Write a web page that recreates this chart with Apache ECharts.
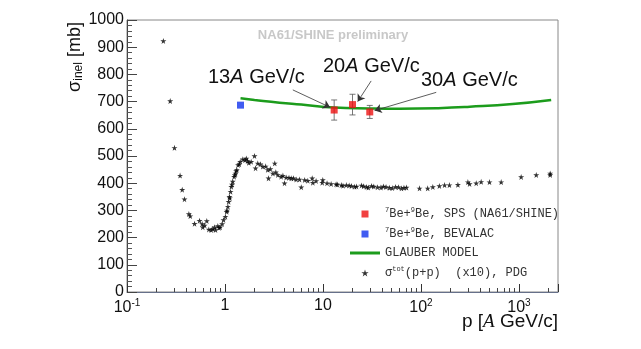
<!DOCTYPE html>
<html>
<head>
<meta charset="utf-8">
<script src="https://cdn.jsdelivr.net/npm/echarts@6/dist/echarts.min.js"></script>
<style>
html, body { margin: 0; padding: 0; background: #fff; }
#main { width: 641px; height: 349px; }
</style>
</head>
<body>
<div id="main"></div>
<script>
// sigma_tot(p+p) x10, PDG : [p (GeV/c), sigma (mb)]
const ppData = [
	[0.235, 923], [0.276, 702], [0.305, 530], [0.348, 428], [0.366, 376], [0.386, 341],
	[0.428, 287], [0.442, 279], [0.489, 251], [0.55, 262], [0.585, 250], [0.593, 238],
	[0.62, 245], [0.652, 261], [0.684, 230], [0.723, 228], [0.75, 232], [0.782, 238],
	[0.8, 228], [0.845, 243], [0.87, 236], [0.893, 238], [0.936, 250], [0.966, 265],
	[1.01, 277], [1.04, 295], [1.05, 300], [1.07, 314], [1.09, 332], [1.11, 350],
	[1.12, 345], [1.14, 369], [1.16, 387], [1.18, 395], [1.2, 406], [1.24, 424],
	[1.26, 430], [1.28, 436], [1.3, 445], [1.32, 449], [1.36, 467], [1.4, 470],
	[1.43, 479], [1.52, 488], [1.6, 485], [1.65, 491], [1.7, 482], [1.75, 475],
	[1.85, 479], [2.0, 500], [2.05, 455], [2.16, 473], [2.3, 470], [2.43, 461],
	[2.6, 462], [2.73, 449], [2.78, 418], [2.9, 452], [3.08, 436], [3.22, 473],
	[3.3, 440], [3.46, 430], [3.74, 424], [3.9, 428], [4.05, 400], [4.21, 421],
	[4.5, 420], [4.74, 418], [5.0, 418], [5.33, 414], [5.76, 414], [6.0, 385],
	[6.5, 412], [7.0, 409], [7.76, 418], [7.87, 402], [8.5, 408], [9.82, 402],
	[9.95, 412], [11, 400], [12.1, 397], [13.6, 396], [14, 395], [15.4, 393],
	[16, 391], [17.3, 393], [18.5, 392], [19.5, 390], [21, 387], [22, 388],
	[24.7, 392], [26, 389], [27.8, 386], [29, 384], [31.3, 390], [33, 388],
	[36, 385], [39, 384], [41.4, 388], [44, 386], [47.7, 383], [51, 382],
	[55, 386], [59, 385], [63.2, 381], [67, 383], [71.1, 384], [96.6, 381],
	[117, 381], [132, 386], [154, 390], [174, 393], [195, 393], [238, 394],
	[301, 404], [313, 397], [366, 400], [411, 405], [500, 404], [658, 404],
	[1052, 423], [1500, 430], [2080, 436], [2080, 430]
]

// 7Be+9Be, SPS (NA61/SHINE)
const naMomenta = [13, 20, 30]
const naSigma = [669, 689, 662]
const naError = [37, 38, 24]

// 7Be+9Be, BEVALAC
const bevalacData = [[1.44, 687]]

// Glauber model curve
const glauberData = [
	[1.44, 712], [2, 706], [3.6, 696], [6, 689], [13, 678], [30, 675],
	[60, 674], [150, 676], [315, 681], [860, 691], [2130, 706]
]

// annotation arrows [from, to] in data coordinates
const arrowLines = [
	[[4.92, 743], [11.8, 679]],
	[[31.0, 776], [22.6, 700]],
	[[143, 734], [33.6, 667]]
]

const xTickLabels = { '-1': '10{sup|-1}', '0': '1', '1': '10', '2': '10{sup|2}', '3': '10{sup|3}' }

const legendNames = {
	na61: '{sup|7}Be+{sup|9}Be, SPS (NA61/SHINE)',
	bevalac: '{sup|7}Be+{sup|9}Be, BEVALAC',
	glauber: 'GLAUBER MODEL',
	pp: 'σ{sup|tot}(p+p)  (x10), PDG'
}

const starPath = 'path://M0,-1L0.2245,-0.309L0.951,-0.309L0.363,0.118L0.588,0.809L0,0.382L-0.588,0.809L-0.363,0.118L-0.951,-0.309L-0.2245,-0.309Z'
const squarePath = 'path://M0,0L1,0L1,1L0,1Z'
const sans = 'Liberation Sans, Arial, sans-serif'

const xLabel = v => {
	const e = Math.log10(v)
	const r = Math.round(e)
	return Math.abs(e - r) < 1e-6 && xTickLabels[String(r)] ? xTickLabels[String(r)] : ''
}

const chart = echarts.init(document.getElementById('main'))

const option = {
	animation: false,
	grid: {
		left: 127,
		right: 83,
		top: 20,
		bottom: 57,
		show: true,
		borderColor: '#888',
		borderWidth: 1
	},
	legend: {
		orient: 'vertical',
		left: 345,
		top: 202,
		itemWidth: 30,
		itemHeight: 7,
		itemGap: 7,
		symbolKeepAspect: true,
		selectedMode: false,
		data: [
			{ name: 'na61', icon: squarePath },
			{ name: 'bevalac', icon: squarePath },
			{ name: 'glauber', icon: 'path://M0,0L30,0L30,3L0,3Z' },
			{ name: 'pp', icon: starPath }
		],
		formatter: name => legendNames[name],
		textStyle: {
			fontFamily: 'Liberation Mono, monospace',
			fontSize: 12,
			color: '#333',
			rich: {
				sup: { fontSize: 7, padding: [0, 0, 7, 0], fontFamily: 'Liberation Mono, monospace', color: '#333' }
			}
		}
	},
	xAxis: {
		type: 'log',
		logBase: 10,
		min: 0.1,
		max: 2500,
		axisLine: { lineStyle: { color: '#66708a', width: 1 } },
		axisTick: { inside: true, length: 8, lineStyle: { color: '#333' } },
		minorTick: { show: true, splitNumber: 9, length: 4, lineStyle: { color: '#444' } },
		splitLine: { show: false },
		axisLabel: {
			margin: 6,
			fontSize: 16,
			fontFamily: sans,
			color: '#111',
			formatter: xLabel,
			rich: {
				sup: { fontSize: 10, padding: [0, 0, 9, 0], fontFamily: sans, color: '#111' }
			}
		}
	},
	yAxis: {
		type: 'value',
		min: 0,
		max: 1000,
		interval: 100,
		axisLine: { show: true, lineStyle: { color: '#444' } },
		axisTick: { inside: true, length: 10, lineStyle: { color: '#444' } },
		minorTick: { show: true, splitNumber: 5, length: 5, lineStyle: { color: '#555' } },
		splitLine: { show: false },
		axisLabel: { margin: 3, fontSize: 16, fontFamily: sans, color: '#111', formatter: v => String(v) }
	},
	graphic: [
		{
			type: 'text',
			x: 333, y: 35,
			style: {
				text: 'NA61/SHINE preliminary',
				font: 'bold 13px ' + sans,
				fill: '#c8c8c8',
				align: 'center',
				verticalAlign: 'middle'
			}
		},
		{
			type: 'text',
			x: 208, y: 77,
			style: {
				text: '13{i|A} GeV/c',
				font: '20px ' + sans,
				fill: '#111',
				verticalAlign: 'middle',
				rich: { i: { font: 'italic 20px ' + sans, fill: '#111' } }
			}
		},
		{
			type: 'text',
			x: 323, y: 66,
			style: {
				text: '20{i|A} GeV/c',
				font: '20px ' + sans,
				fill: '#111',
				verticalAlign: 'middle',
				rich: { i: { font: 'italic 20px ' + sans, fill: '#111' } }
			}
		},
		{
			type: 'text',
			x: 421, y: 80,
			style: {
				text: '30{i|A} GeV/c',
				font: '20px ' + sans,
				fill: '#111',
				verticalAlign: 'middle',
				rich: { i: { font: 'italic 20px ' + sans, fill: '#111' } }
			}
		},
		{
			type: 'text',
			x: 558, y: 322,
			style: {
				text: 'p [{i|A} GeV/c]',
				font: '19px ' + sans,
				fill: '#111',
				align: 'right',
				verticalAlign: 'middle',
				rich: { i: { font: 'italic 19px Liberation Serif, serif', fill: '#111' } }
			}
		},
		{
			type: 'text',
			x: 75, y: 57,
			rotation: Math.PI / 2,
			style: {
				text: 'σ{sub|inel} [mb]',
				font: '18px ' + sans,
				fill: '#111',
				align: 'center',
				verticalAlign: 'middle',
				rich: { sub: { font: '12px ' + sans, fill: '#111', padding: [8, 0, 0, 0] } }
			}
		}
	],
	series: [
		{
			name: 'pp',
			type: 'scatter',
			symbol: starPath,
			symbolSize: 6,
			itemStyle: { color: '#000' },
			data: ppData,
			z: 2
		},
		{
			name: 'glauber',
			type: 'line',
			smooth: true,
			showSymbol: false,
			lineStyle: { color: '#1c9c1c', width: 2.5 },
			itemStyle: { color: '#1c9c1c' },
			data: glauberData,
			z: 3
		},
		{
			name: 'errors',
			type: 'custom',
			data: naMomenta.map((p, i) => [p, naSigma[i] - naError[i], naSigma[i] + naError[i]]),
			encode: { x: 0, y: [1, 2] },
			renderItem: function (params, api) {
				const top = api.coord([api.value(0), api.value(2)])
				const bot = api.coord([api.value(0), api.value(1)])
				const st = { stroke: '#555', lineWidth: 0.8 }
				return {
					type: 'group',
					children: [
						{ type: 'line', shape: { x1: top[0], y1: top[1], x2: bot[0], y2: bot[1] }, style: st },
						{ type: 'line', shape: { x1: top[0] - 3, y1: top[1], x2: top[0] + 3, y2: top[1] }, style: st },
						{ type: 'line', shape: { x1: bot[0] - 3, y1: bot[1], x2: bot[0] + 3, y2: bot[1] }, style: st }
					]
				}
			},
			z: 4
		},
		{
			name: 'na61',
			type: 'scatter',
			symbol: 'rect',
			symbolSize: 7,
			itemStyle: { color: '#ee1111' },
			data: naMomenta.map((p, i) => [p, naSigma[i]]),
			markLine: {
				silent: true,
				symbol: ['none', 'arrow'],
				symbolSize: 7,
				label: { show: false },
				lineStyle: { color: '#333', width: 0.8, type: 'solid' },
				data: arrowLines.map(([a, b]) => [{ coord: a }, { coord: b }])
			},
			z: 5
		},
		{
			name: 'bevalac',
			type: 'scatter',
			symbol: 'rect',
			symbolSize: 7,
			itemStyle: { color: '#1133ee' },
			data: bevalacData,
			z: 5
		}
	]
}

chart.setOption(option)
</script>
</body>
</html>
